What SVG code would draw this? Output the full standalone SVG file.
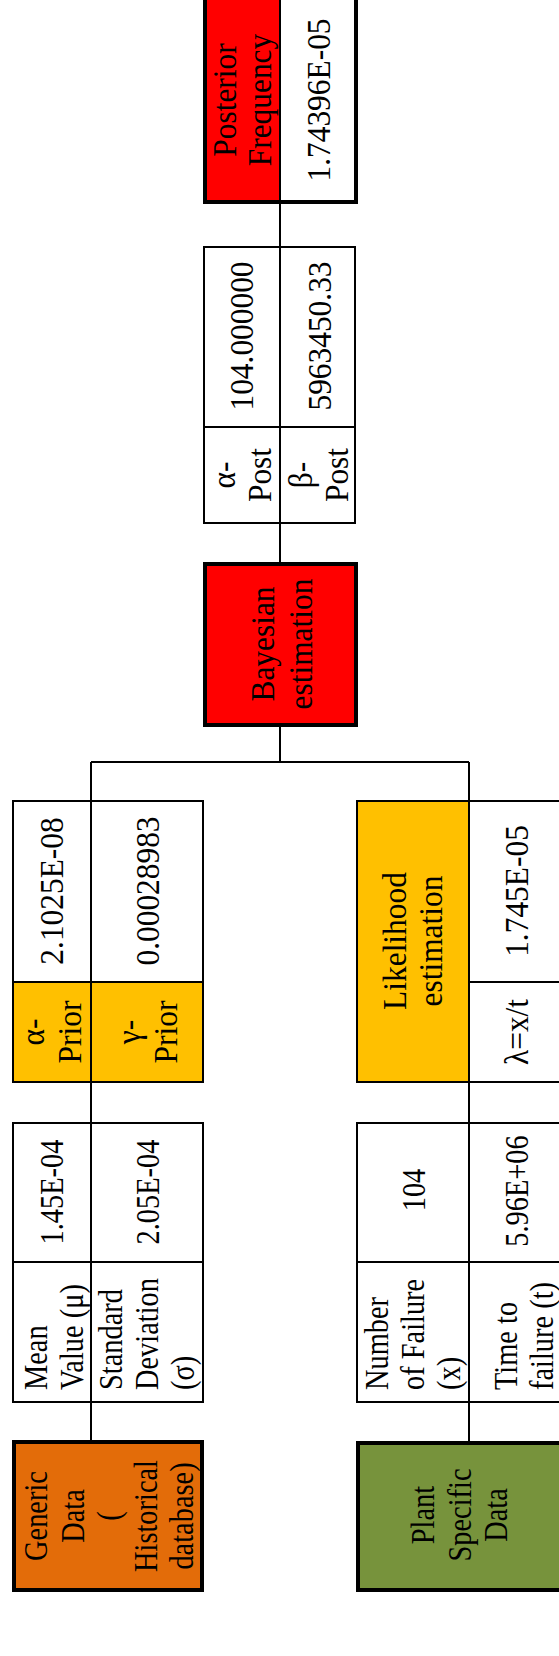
<svg xmlns="http://www.w3.org/2000/svg" width="559" height="1656" viewBox="0 0 559 1656">
<style>
.t{font-family:"Liberation Serif","Times New Roman",serif;fill:#000}
.u{font-size:31.4px}
.l{font-size:28.4px}
.m{text-anchor:middle}
.s{text-anchor:start}
.c{fill:#fff;stroke:#000;stroke-width:2}
.y{fill:#FFC000;stroke:#000;stroke-width:2}
.ln{stroke:#000;stroke-width:2;fill:none}
.bx{stroke:#000;stroke-width:4}
</style>
<rect width="559" height="1656" fill="#fff"/>
<g id="connectors" class="ln">
<path d="M280 204V246M280 524V562M280 727V762M91 762H469M91 762V800M91 1083V1122M91 1402V1440M469 762V800M469 1083V1122M469 1402V1441"/>
</g>
<g id="posterior">
<rect x="205" y="-10" width="151" height="212" fill="#fff" class="bx"/>
<rect x="205" y="-10" width="75" height="212" fill="#FF0000"/>
<path d="M280 -10V202" class="ln"/>
<rect x="205" y="-10" width="151" height="212" fill="none" class="bx"/>
<text class="t u m" transform="translate(236,100) rotate(-90) scale(1,1.08)"><tspan x="0" y="0">Posterior</tspan><tspan x="0" y="32">Frequency</tspan></text>
<text class="t u m" transform="translate(330,100) rotate(-90) scale(1,1.08)">1.74396E-05</text>
</g>
<g id="post-table">
<rect x="204" y="247" width="151" height="276" class="c"/>
<path d="M280 247V523M204 427H355" class="ln"/>
<text class="t u m" transform="translate(253,336) rotate(-90) scale(1,1.08)">104.000000</text>
<text class="t u m" transform="translate(331,336) rotate(-90) scale(1,1.08)">5963450.33</text>
<text class="t u m" transform="translate(235,475) rotate(-90) scale(1,1.08)"><tspan x="0" y="0">α-</tspan><tspan x="0" y="33">Post</tspan></text>
<text class="t u m" transform="translate(312,475) rotate(-90) scale(1,1.08)"><tspan x="0" y="0">β-</tspan><tspan x="0" y="33">Post</tspan></text>
</g>
<g id="bayesian">
<rect x="205" y="564" width="151" height="161" fill="#FF0000" class="bx"/>
<text class="t u m" transform="translate(274,644) rotate(-90) scale(1,1.08)"><tspan x="0" y="0">Bayesian</tspan><tspan x="0" y="35">estimation</tspan></text>
</g>
<g id="prior-table">
<rect x="13" y="801" width="190" height="281" class="c"/>
<rect x="13" y="982" width="190" height="100" class="y"/>
<path d="M91 801V1082" class="ln"/>
<text class="t u m" transform="translate(63,891) rotate(-90) scale(1,1.08)">2.1025E-08</text>
<text class="t u m" transform="translate(159,891) rotate(-90) scale(1,1.08)">0.00028983</text>
<text class="t u m" transform="translate(44,1032) rotate(-90) scale(1,1.08)"><tspan x="0" y="0">α-</tspan><tspan x="0" y="34">Prior</tspan></text>
<text class="t u m" transform="translate(140,1032) rotate(-90) scale(1,1.08)"><tspan x="0" y="0">γ-</tspan><tspan x="0" y="34">Prior</tspan></text>
</g>
<g id="likelihood">
<rect x="469" y="801" width="110" height="281" class="c"/>
<path d="M469 982H579" class="ln"/>
<rect x="357" y="801" width="112" height="281" class="y"/>
<text class="t u m" transform="translate(406,941) rotate(-90) scale(1,1.08)"><tspan x="0" y="0">Likelihood</tspan><tspan x="0" y="33">estimation</tspan></text>
<text class="t u m" transform="translate(528,891) rotate(-90) scale(1,1.08)">1.745E-05</text>
<text class="t u m" transform="translate(528,1032) rotate(-90) scale(1,1.08)">λ=x/t</text>
</g>
<g id="generic-table">
<rect x="13" y="1123" width="190" height="279" class="c"/>
<path d="M91 1123V1402M13 1262H203" class="ln"/>
<text class="t l m" transform="translate(63,1192) rotate(-90) scale(1,1.2)">1.45E-04</text>
<text class="t l m" transform="translate(159,1192) rotate(-90) scale(1,1.2)">2.05E-04</text>
<text class="t l s" transform="translate(47,1390) rotate(-90) scale(1,1.2)"><tspan x="0" y="0">Mean</tspan><tspan x="0" y="30">Value (μ)</tspan></text>
<text class="t l s" transform="translate(122,1390) rotate(-90) scale(1,1.2)"><tspan x="0" y="0">Standard</tspan><tspan x="0" y="30">Deviation</tspan><tspan x="0" y="60">(σ)</tspan></text>
</g>
<g id="plant-table">
<rect x="357" y="1123" width="222" height="279" class="c"/>
<path d="M469 1123V1402M357 1262H579" class="ln"/>
<text class="t l m" transform="translate(425,1190) rotate(-90) scale(1,1.2)">104</text>
<text class="t l m" transform="translate(528,1191) rotate(-90) scale(1,1.2)">5.96E+06</text>
<text class="t l s" transform="translate(388,1390) rotate(-90) scale(1,1.2)"><tspan x="0" y="0">Number</tspan><tspan x="0" y="30">of Failure</tspan><tspan x="0" y="60">(x)</tspan></text>
<text class="t l s" transform="translate(517,1390) rotate(-90) scale(1,1.2)"><tspan x="0" y="0">Time to</tspan><tspan x="0" y="30">failure (t)</tspan></text>
</g>
<g id="generic-data">
<rect x="14" y="1442" width="188" height="148" fill="#E36C09" class="bx"/>
<text class="t l m" transform="translate(47,1516) rotate(-90) scale(1,1.2)"><tspan x="0" y="0">Generic</tspan><tspan x="0" y="31">Data</tspan><tspan x="0" y="61">(</tspan><tspan x="0" y="92">Historical</tspan><tspan x="0" y="122">database)</tspan></text>
</g>
<g id="plant-data">
<rect x="358" y="1443" width="222" height="147" fill="#77933C" class="bx"/>
<text class="t l m" transform="translate(434,1515) rotate(-90) scale(1,1.2)"><tspan x="0" y="0">Plant</tspan><tspan x="0" y="30.5">Specific</tspan><tspan x="0" y="61">Data</tspan></text>
</g>
</svg>
